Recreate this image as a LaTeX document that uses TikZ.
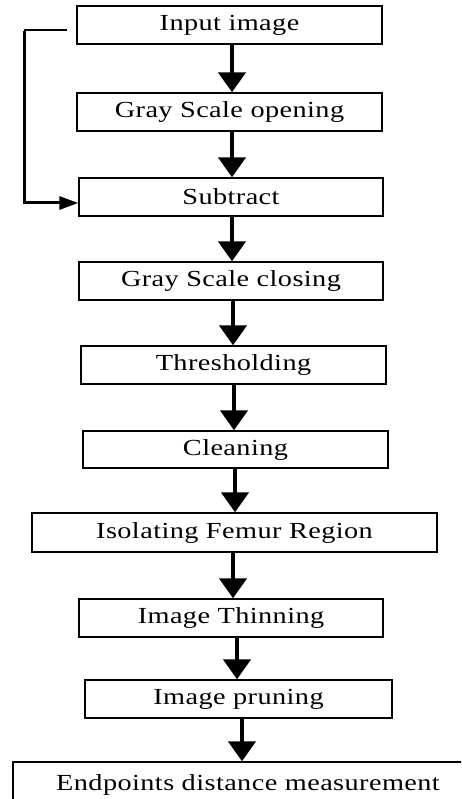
\documentclass[tikz,border=0pt]{standalone}
\usepackage{fontspec}
\setmainfont{Liberation Serif}[FakeStretch=1.23,LetterSpace=1.8]
\usetikzlibrary{arrows.meta}
\tikzset{
  stepbox/.style={draw=black, line width=1.4pt, inner sep=0pt, font=\fontsize{23}{26}\selectfont},
  flow/.style={line width=4.5pt, -{Triangle[width=27pt,length=20pt]}},
  fback/.style={line width=3pt, -{Triangle[width=13pt,length=19pt]}}
}
\begin{document}
\begin{tikzpicture}[x=1pt,y=-1pt]
\useasboundingbox (0,0) rectangle (461,799);
\clip (0,0) rectangle (461,799);
\node[stepbox, minimum width=305pt, minimum height=38pt] (b1) at (229.5,25) {Input image};
\node[stepbox, minimum width=305pt, minimum height=38pt] (b2) at (229.5,112) {Gray Scale opening};
\node[stepbox, minimum width=304pt, minimum height=38pt] (b3) at (231,197) {Subtract};
\node[stepbox, minimum width=304pt, minimum height=38pt] (b4) at (231,281) {Gray Scale closing};
\node[stepbox, minimum width=305pt, minimum height=38pt] (b5) at (233.5,365) {Thresholding};
\node[stepbox, minimum width=305pt, minimum height=37pt] (b6) at (235.5,449.5) {Cleaning};
\node[stepbox, minimum width=405pt, minimum height=39pt] (b7) at (234.5,532.5) {Isolating Femur Region};
\node[stepbox, minimum width=304pt, minimum height=38pt] (b8) at (231,618) {Image Thinning};
\node[stepbox, minimum width=307pt, minimum height=38pt] (b9) at (238.5,699) {Image pruning};
\node[stepbox, minimum width=470pt, minimum height=48pt] (b10) at (248,786) {\raisebox{6pt}{Endpoints distance measurement}};
\draw[flow] ([xshift=2.5pt]b1.south) -- ([xshift=2.5pt]b2.north);
\draw[flow] ([xshift=2.5pt]b2.south) -- ([xshift=1pt]b3.north);
\draw[flow] ([xshift=1pt]b3.south) -- ([xshift=1pt]b4.north);
\draw[flow] ([xshift=2pt]b4.south) -- ([xshift=-0.5pt]b5.north);
\draw[flow] ([xshift=0.5pt]b5.south) -- ([xshift=-1.5pt]b6.north);
\draw[flow] ([xshift=-0.5pt]b6.south) -- ([xshift=0.5pt]b7.north);
\draw[flow] ([xshift=-1.5pt]b7.south) -- ([xshift=2pt]b8.north);
\draw[flow] ([xshift=6pt]b8.south) -- ([xshift=-1.5pt]b9.north);
\draw[flow] ([xshift=3.5pt]b9.south) -- ([xshift=-6pt]b10.north);
\coordinate (fbstart) at (67,30);
\coordinate (fbcorner) at (24,30);
\draw[line width=1.6pt] (fbstart) -- (fbcorner);
\draw[fback] ([yshift=-0.8pt]fbcorner) |- ([yshift=-6pt]b3.west);
\end{tikzpicture}
\end{document}
